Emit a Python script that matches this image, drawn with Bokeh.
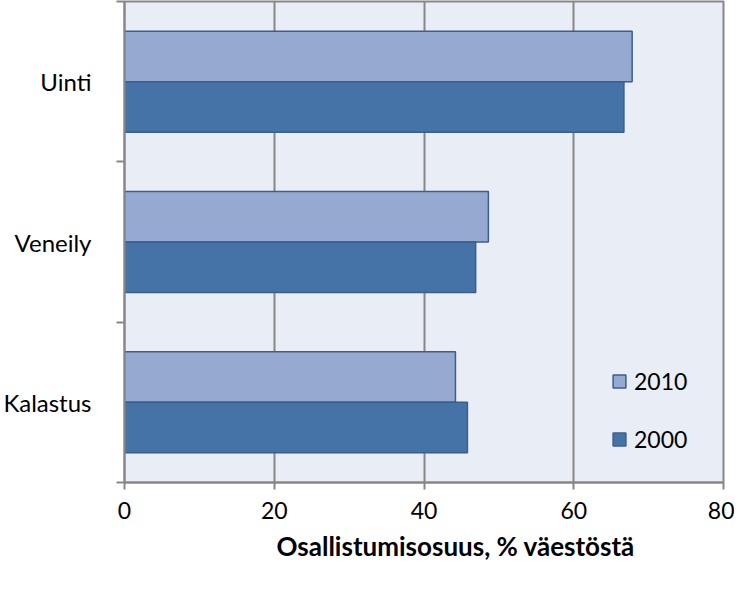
from bokeh.plotting import figure
from bokeh.models import (Range1d, FixedTicker, Legend, LegendItem, Title, ColumnDataSource)
from bokeh.embed import file_html
from bokeh.resources import INLINE
from bokeh.transform import dodge

# ---- data ----
categories = ["Kalastus", "Veneily", "Uinti"]   # bottom to top
years = ["2010", "2000"]
values_2010 = [44.2, 48.6, 67.8]
values_2000 = [45.8, 46.9, 66.7]
x_ticks = [0, 20, 40, 60, 80]
x_title = "Osallistumisosuus, % väestöstä"

FONT = "Lato"
GRID = "#878787"
BG = "#E9EDF5"
C2010 = "#95A9D1"
C2000 = "#4572A7"
EDGE = "#3A5F8B"
BAR_H = 0.315

pos = [i + 0.5 for i in range(len(categories))]
src = ColumnDataSource(dict(pos=pos, cat=categories, v2010=values_2010, v2000=values_2000))

p = figure(width=734, height=573, output_backend="svg", toolbar_location=None,
           x_range=Range1d(0, 80), y_range=Range1d(0, len(categories)),
           min_border_left=117, min_border_right=11, min_border_top=1, min_border_bottom=91)

p.background_fill_color = BG
p.border_fill_color = "white"
p.outline_line_color = GRID
p.outline_line_width = 2

r2010 = p.hbar(y=dodge("pos", BAR_H / 2, range=p.y_range), right="v2010", left=0, height=BAR_H,
               source=src, fill_color=C2010, line_color=EDGE, line_width=1.5)
r2000 = p.hbar(y=dodge("pos", -BAR_H / 2, range=p.y_range), right="v2000", left=0, height=BAR_H,
               source=src, fill_color=C2000, line_color=EDGE, line_width=1.5)

# x axis
p.xaxis.ticker = FixedTicker(ticks=x_ticks)
p.xaxis.axis_line_color = GRID
p.xaxis.axis_line_width = 2
p.xaxis.major_tick_line_color = GRID
p.xaxis.major_tick_line_width = 2
p.xaxis.major_tick_out = 7
p.xaxis.major_tick_in = 0
p.xaxis.minor_tick_line_color = None
p.xaxis.major_label_text_font = FONT
p.xaxis.major_label_text_font_size = "23px"
p.xaxis.major_label_text_color = "black"
p.xaxis.major_label_standoff = 12

# y axis: labels at centres, ticks at category boundaries
p.yaxis.ticker = FixedTicker(ticks=pos, minor_ticks=list(range(len(categories) + 1)))
p.yaxis.major_label_overrides = {pp: c for pp, c in zip(pos, categories)}
p.yaxis.axis_line_color = GRID
p.yaxis.axis_line_width = 2
p.yaxis.major_tick_line_color = None
p.yaxis.major_tick_out = 0
p.yaxis.major_tick_in = 0
p.yaxis.minor_tick_line_color = GRID
p.yaxis.minor_tick_line_width = 2
p.yaxis.minor_tick_out = 8
p.yaxis.minor_tick_in = 0
p.yaxis.major_label_text_font = FONT
p.yaxis.major_label_text_font_size = "24px"
p.yaxis.major_label_text_color = "black"
p.yaxis.major_label_standoff = 25

p.xgrid.grid_line_color = GRID
p.xgrid.grid_line_width = 2
p.ygrid.grid_line_color = None

legend = Legend(items=[LegendItem(label=years[0], renderers=[r2010]),
                       LegendItem(label=years[1], renderers=[r2000])],
                location=(487, 29), padding=0, margin=0, spacing=30,
                glyph_width=16, glyph_height=16, label_height=16, label_standoff=7,
                label_text_font=FONT, label_text_font_size="23px", label_text_color="black",
                background_fill_alpha=0, border_line_alpha=0)
p.add_layout(legend)

title = Title(text=x_title, align="left", offset=152, standoff=17, vertical_align="top",
              text_font=FONT, text_font_style="bold", text_font_size="26px", text_color="black")
p.add_layout(title, "below")

open("out.html", "w").write(file_html(p, INLINE))
